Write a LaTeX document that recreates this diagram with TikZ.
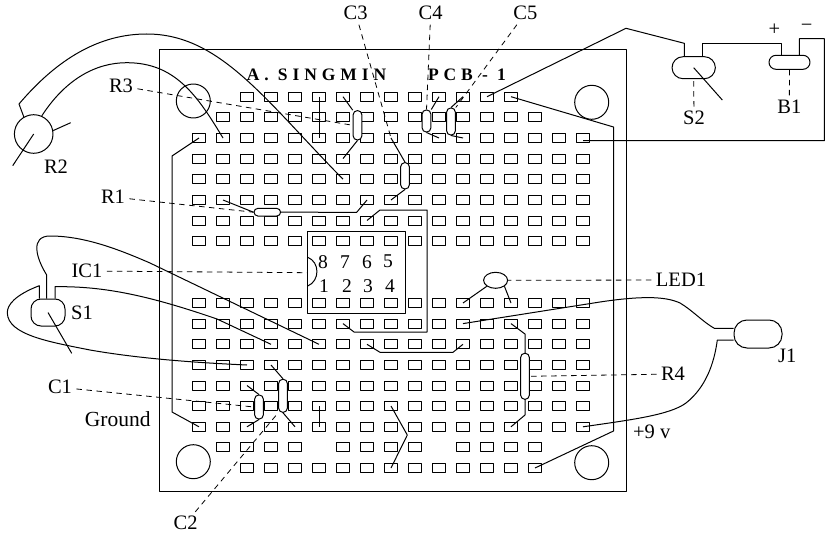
\documentclass[tikz,border=0pt]{standalone}
\usepackage{fontspec}
\usepackage{tikz}
\usetikzlibrary{shapes.geometric}
\setmainfont{Liberation Serif}

\begin{document}
\begin{tikzpicture}[x=1pt, y=-1pt, line width=1pt, line join=round,
        padbox/.style={draw, rectangle, inner sep=0pt, minimum width=13pt, minimum height=9pt},
        capsule/.style={draw, fill=white, rectangle, inner sep=0pt, rounded corners=4pt, minimum width=8.6pt},
        lbl/.style={inner sep=4pt, font=\fontsize{20.5}{22}\selectfont},
        pinnum/.style={inner sep=0pt, font=\fontsize{19.5}{22}\selectfont},
        titletext/.style={inner sep=0pt, font=\fontsize{17.5}{20}\selectfont\bfseries\addfontfeature{LetterSpace=28}},
        leader/.style={dashed, dash pattern=on 5.5pt off 4.5pt, line width=0.8pt}]

            \useasboundingbox (0,0) rectangle (825,535);

            \draw (159,50) rectangle (626.7,491.7);
            \foreach \holex/\holey in {193.3/101, 591.7/102.3, 193.3/461.7, 591.7/462.7}
                \draw (\holex,\holey) circle (17pt);

            \foreach \row/\rowy/\first/\last in {0/96.7/2/13, 1/117.3/1/14, 2/138/0/16, 3/158.6/0/16, 4/179.2/0/16, 5/200/0/16, 6/220.5/0/16, 7/241/0/16, 8/303/0/16, 9/323.6/0/16, 10/344.3/0/16, 11/365/0/16, 12/385.5/0/16, 13/406/0/16, 14/426.8/0/16, 15/447.4/1/4, 15/447.4/6/9, 15/447.4/11/14, 16/468/2/14}
                \foreach \col in {\first,...,\last}
                    \node[padbox] (pad\row-\col) at ({199+24*\col},\rowy) {};

            \node[titletext] (title) at (316.5,75) {A. SINGMIN};
            \node[titletext] (pcbname) at (467,75) {PCB - 1};

            \node[draw, rectangle, inner sep=0pt, minimum width=97.6pt, minimum height=82pt] (icbox) at (356.5,272.7) {};
            \draw (307.7,257.3) .. controls (320,262) and (320,281) .. (307.7,286);
            \foreach \pin/\pinx in {8/323, 7/345, 6/367, 5/388}
                \node[pinnum] (pin\pin) at (\pinx,261.7) {\pin};
            \foreach \pin/\pinx in {1/324, 2/347, 3/368, 4/390}
                \node[pinnum] (pin\pin) at (\pinx,286) {\pin};

            \draw (pad2-0.center) -- (172,156) -- (172,412) -- (pad14-0.center);
            \draw (pad0-13.center) -- (613.5,127) -- (613.5,431) -- (pad16-14.center);
            \draw (pad6-7.center) -- (380,210) -- (427,210) -- (427,332) -- (354,332) -- (pad9-6.center);
            \draw (pad10-7.center) -- (380,352.3) -- (453,352.3) -- (pad10-11.center);
            \draw (pad0-5.center) -- (pad2-5.center);
            \draw (pad13-5.center) -- (pad14-5.center);
            \draw (pad13-8.center) -- (407.3,435) -- (pad16-8.center);

            \node[draw, circle, inner sep=0pt, minimum size=38.6pt] (potR2) at (33.7,134) {};
            \coordinate (legR2) at (70.7,122.7);
            \coordinate (tipR2) at (12.7,165.7);
            \draw (potR2.10) -- (legR2);
            \draw (potR2.center) -- (tipR2);
            \draw (potR2.120) -- (19,104) .. controls (58,58) and (100,34) .. (146.7,34) .. controls (220,34) and (265,100) .. (pad4-6.center);
            \draw (potR2.66) .. controls (65,80) and (95,62.7) .. (126.7,62.7) .. controls (175,62.7) and (197,95) .. (pad2-1.center);

            \node[capsule, minimum height=29.3pt] (capR3) at (357.5,125.3) {};
            \draw (pad0-6.center) -- (capR3.north west);
            \draw (pad3-6.center) -- (capR3.south);

            \node[capsule, minimum height=26.3pt] (capC3) at (405,175.8) {};
            \draw (pad2-8.center) -- (capC3.north);
            \draw (capC3.south) -- (pad5-8.center);

            \node[capsule, minimum height=22pt] (capC4) at (426.5,121) {};
            \draw (pad0-10.center) -- (capC4.north east);
            \draw (capC4.south) -- (pad2-10.center);

            \node[capsule, minimum height=27pt] (capC5) at (451,121.5) {};
            \draw (pad0-11.center) -- (capC5.north);
            \draw (capC5.south) -- (pad2-11.center);

            \node[capsule, minimum width=26.7pt, minimum height=7.7pt] (capR1) at (267.3,212.2) {};
            \draw (pad5-1.center) -- (capR1.west);
            \draw (capR1.east) -- (356.7,212.3) -- (pad5-7.center);

            \node[capsule, minimum height=24pt] (capC1) at (259,407) {};
            \draw (pad12-2.center) -- (capC1.north);
            \draw (capC1.south) -- (pad14-2.center);

            \node[capsule, minimum height=33pt] (capC2) at (283,395.8) {};
            \draw (pad11-3.center) -- (capC2.north);
            \draw (capC2.south) -- (pad14-4.center);

            \node[capsule, minimum height=46pt] (capR4) at (525,376.3) {};
            \draw (pad9-13.center) -- (525,334) -- (capR4.north);
            \draw (capR4.south) -- (525,415) -- (pad14-13.center);

            \node[draw, fill=white, ellipse, inner sep=0pt, minimum width=24pt, minimum height=16pt] (led) at (495.6,280.3) {};
            \draw (pad8-11.center) -- (led.south west);
            \draw (led.south east) -- (pad8-13.center);

            \node[draw, rectangle, inner sep=0pt, rounded corners=10pt, minimum width=34pt, minimum height=27pt] (capS1) at (48,312.5) {};
            \coordinate (tipS1) at (71.7,353.3);
            \draw (capS1.center) -- (tipS1);
            \draw ([xshift=-1.3pt]capS1.north) -- (46.7,275) .. controls (36,258) and (30,236) .. (50,236) .. controls (85,236) and (120,250) .. (150,263) -- (pad10-5.center);
            \draw ([xshift=7pt]capS1.north) -- (55,286.7) .. controls (105,286) and (150,296) .. (217,319) -- (pad10-3.center);
            \draw ([xshift=-8.7pt]capS1.north) -- (39.3,285.7) .. controls (15,295) and (7,305) .. (7.3,313) .. controls (8,335) and (50,342) .. (90,350) .. controls (130,357) and (180,362) .. (pad11-2.center);

            \node[draw, rectangle, inner sep=0pt, rounded corners=13pt, minimum width=48pt, minimum height=28pt] (capJ1) at (758,334) {};
            \draw (pad9-11.center) -- (600,302) .. controls (640,296) and (665,296) .. (680,303) .. controls (692,310) and (703,322) .. (714.3,328.3) -- ([yshift=5.7pt]capJ1.west);
            \draw (pad14-16.center) .. controls (630,420) and (670,415) .. (686,403) .. controls (705,388) and (714,365) .. (717.3,340) -- ([yshift=-6pt]capJ1.west);

            \node[draw, rectangle, inner sep=0pt, rounded corners=11pt, minimum width=43.3pt, minimum height=22pt] (capS2) at (693.7,67.7) {};
            \node[draw, rectangle, inner sep=0pt, rounded corners=7pt, minimum width=41pt, minimum height=14pt] (capB1) at (789.5,62.3) {};
            \coordinate (tipS2) at (722.3,100);
            \draw (capS2.center) -- (tipS2);
            \draw (pad0-12.center) -- (626,28.3) -- (684.3,43.3) -- ([xshift=-9.4pt]capS2.north);
            \draw ([xshift=9pt]capS2.north) -- (702.7,43.7) -- (781,43.7) -- ([xshift=-8.5pt]capB1.north);
            \draw ([xshift=9.8pt]capB1.north) -- (799.3,38.7) -- (824.3,38.7) -- (824.3,140.7) -- ([yshift=-2.5pt]pad2-16.center);

            \node[lbl] (lblR2) at (56,166.7) {R2};
            \node[lbl] (lblR3) at (121,86) {R3};
            \node[lbl] (lblR1) at (113,197) {R1};
            \node[lbl] (lblIC1) at (87,271) {IC1};
            \node[lbl] (lblS1) at (82,313) {S1};
            \node[lbl] (lblC1) at (60,387.3) {C1};
            \node[lbl, font=\fontsize{21.5}{22}\selectfont] (lblGround) at (117.7,419.3) {Ground};
            \node[lbl] (lblC2) at (185.7,523.3) {C2};
            \node[lbl] (lblC3) at (355.7,13.3) {C3};
            \node[lbl] (lblC4) at (430.7,13.3) {C4};
            \node[lbl] (lblC5) at (525.3,13.3) {C5};
            \node[lbl] (lblS2) at (694,118) {S2};
            \node[lbl] (lblB1) at (789.3,106.7) {B1};
            \node[lbl] (lblPlus) at (774.3,29.3) {+};
            \node[lbl] (lblMinus) at (806.7,28.3) {−};
            \node[lbl] (lblLED1) at (681,280) {LED1};
            \node[lbl] (lblR4) at (673,374) {R4};
            \node[lbl] (lblJ1) at (787.3,355.7) {J1};
            \node[lbl] (lblNine) at (651.7,431.7) {+9 v};

            \draw[leader] (lblR3) -- (capR3.west);
            \draw[leader] (lblR1) -- (capR1.west);
            \draw[leader] (lblIC1) -- (icbox.west);
            \draw[leader] (lblC1) -- (capC1.west);
            \draw[leader] (lblC2) -- (capC2.south west);
            \draw[leader] (lblC3) -- (pad2-8.center);
            \draw[leader] (lblC4) -- (capC4.north);
            \draw[leader] (lblC5) -- (capC5.north east);
            \draw[leader] (lblS2) -- (capS2.south);
            \draw[leader] (lblB1) -- (capB1.south);
            \draw[leader] (lblLED1) -- (led.east);
            \draw[leader] (lblR4) -- (capR4.east);
        \end{tikzpicture}
\end{document}
